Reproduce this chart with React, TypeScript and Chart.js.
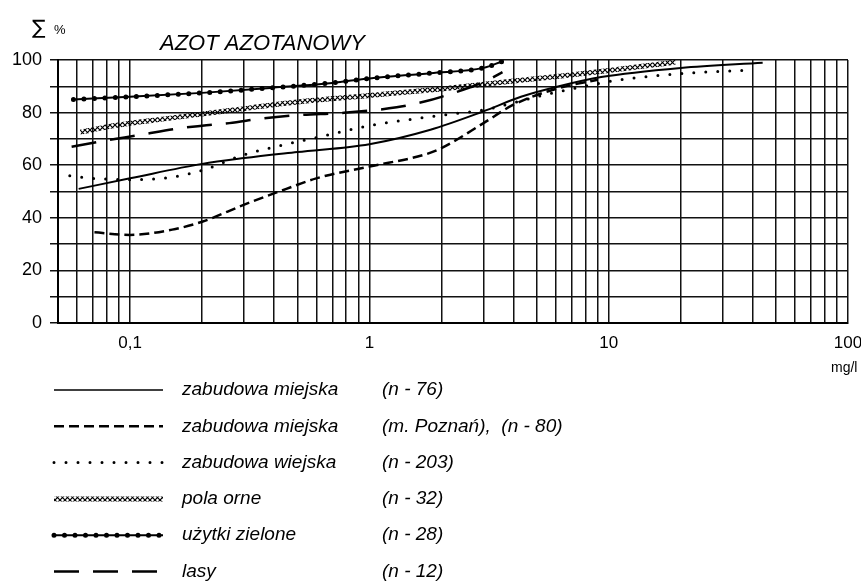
import React, { useEffect, useRef } from "react";
import { Chart, registerables } from "chart.js";

Chart.register(...registerables);

// ---------- text ----------
const TITLE = "AZOT AZOTANOWY";
const Y_UNIT_SYMBOL = "∑";
const Y_UNIT_SUFFIX = "%";
const X_UNIT = "mg/l";

// ---------- axes ----------
const X_MIN = 0.05;
const X_MAX = 100;
const X_TICKS = [
  0.05, 0.06, 0.07, 0.08, 0.09,
  0.1, 0.2, 0.3, 0.4, 0.5, 0.6, 0.7, 0.8, 0.9,
  1, 2, 3, 4, 5, 6, 7, 8, 9,
  10, 20, 30, 40, 50, 60, 70, 80, 90,
  100,
];
const X_LABEL_VALUES = [0.1, 1, 10, 100];
const X_LABEL_TEXTS = ["0,1", "1", "10", "100"];
const Y_TICKS = [0, 10, 20, 30, 40, 50, 60, 70, 80, 90, 100];
const Y_LABEL_VALUES = [0, 20, 40, 60, 80, 100];

// ---------- series (x in mg/l, y cumulative %) ----------
const miejskaX = [0.061, 0.1, 0.2, 0.3, 0.5, 1, 1.8, 3, 4.3, 6.2, 9.3, 20, 44];
const miejskaY = [51, 55, 60.5, 62.7, 65, 68, 73.5, 80.5, 86, 90, 93.5, 97, 99];

const poznanX = [0.071, 0.1, 0.15, 0.2, 0.3, 0.45, 0.6, 1, 1.7, 2, 3, 4, 6, 9];
const poznanY = [34.5, 33.5, 35.5, 38.5, 45, 51, 55, 59.5, 64, 66.5, 76, 83, 89, 92.5];

const wiejskaX = [0.056, 0.07, 0.1, 0.15, 0.2, 0.3, 0.45, 0.6, 1, 2, 3, 5, 7, 11, 17, 25, 40];
const wiejskaY = [56, 55, 54.5, 55.5, 58, 64, 68, 70.5, 75, 79, 81, 86, 89, 92.4, 94.3, 95.4, 96.2];

const polaX = [0.062, 0.085, 0.15, 0.27, 0.5, 1, 2, 4, 6.5, 10, 15, 19];
const polaY = [72.5, 75, 78, 81, 84, 86.5, 89, 92, 94, 96, 98, 99.2];

const uzytkiX = [0.058, 0.1, 0.2, 0.4, 0.7, 1, 1.8, 3, 3.6];
const uzytkiY = [85, 86, 87.5, 89.5, 91.3, 93, 95, 97, 99.5];

const lasyX = [0.057, 0.075, 0.11, 0.16, 0.2, 0.26, 0.36, 0.5, 0.8, 1.3, 1.7, 2, 3, 3.6];
const lasyY = [67, 69, 71.5, 74, 75, 76, 77.8, 79, 80, 82, 84.2, 86, 91.6, 95.4];

// ---------- legend ----------
const LEGEND_NAMES = [
  "zabudowa miejska",
  "zabudowa miejska",
  "zabudowa wiejska",
  "pola orne",
  "użytki zielone",
  "lasy",
];
const LEGEND_NOTES = [
  "(n - 76)",
  "(m. Poznań),  (n - 80)",
  "(n - 203)",
  "(n - 32)",
  "(n - 28)",
  "(n - 12)",
];

const FONT = '"Liberation Sans", Arial, sans-serif';

type Layer = {
  width: number;
  dash: number[];
  cap: CanvasLineCap;
  color: string | CanvasPattern;
};

function makeCrossPattern(): string | CanvasPattern {
  const c = document.createElement("canvas");
  c.width = 5;
  c.height = 5;
  const g = c.getContext("2d");
  if (!g) return "#000";
  g.strokeStyle = "#000";
  g.lineWidth = 1.2;
  g.beginPath();
  g.moveTo(0, 0);
  g.lineTo(5, 5);
  g.moveTo(5, 0);
  g.lineTo(0, 5);
  g.stroke();
  return g.createPattern(c, "repeat") || "#000";
}

export default function App() {
  const ref = useRef<HTMLCanvasElement | null>(null);

  useEffect(() => {
    const canvas = ref.current;
    if (!canvas) return;
    document.body.style.margin = "0";

    const cross = makeCrossPattern();

    const seriesStyles: Layer[][] = [
      [{ width: 2, dash: [], cap: "butt", color: "#000" }],
      [{ width: 2.5, dash: [10, 5], cap: "butt", color: "#000" }],
      [{ width: 3, dash: [0, 12], cap: "round", color: "#000" }],
      [{ width: 5, dash: [], cap: "butt", color: cross }],
      [
        { width: 2, dash: [], cap: "butt", color: "#000" },
        { width: 5, dash: [0, 10.5], cap: "round", color: "#000" },
      ],
      [{ width: 2.5, dash: [25, 14], cap: "butt", color: "#000" }],
    ];
    const seriesData = [
      [miejskaX, miejskaY],
      [poznanX, poznanY],
      [wiejskaX, wiejskaY],
      [polaX, polaY],
      [uzytkiX, uzytkiY],
      [lasyX, lasyY],
    ];

    const datasets: any[] = [];
    seriesData.forEach(([xs, ys], i) => {
      seriesStyles[i].forEach((layer) => {
        datasets.push({
          label: LEGEND_NAMES[i],
          data: xs.map((x, k) => ({ x, y: ys[k] })),
          borderColor: layer.color,
          borderWidth: layer.width,
          borderDash: layer.dash,
          borderCapStyle: layer.cap,
          pointRadius: 0,
          pointHoverRadius: 0,
          fill: false,
          cubicInterpolationMode: "monotone",
        });
      });
    });

    const overlay = {
      id: "overlay",
      beforeDraw(chart: any) {
        const ctx = chart.ctx;
        ctx.save();
        ctx.fillStyle = "#fff";
        ctx.fillRect(0, 0, chart.width, chart.height);
        ctx.restore();
      },
      afterDraw(chart: any) {
        const ctx: CanvasRenderingContext2D = chart.ctx;
        ctx.save();
        ctx.fillStyle = "#000";
        ctx.textBaseline = "alphabetic";
        // title
        ctx.font = `italic 22px ${FONT}`;
        ctx.textAlign = "left";
        ctx.fillText(TITLE, 160, 50);
        // y unit
        ctx.font = `20px "DejaVu Sans", ${FONT}`;
        ctx.fillText(Y_UNIT_SYMBOL, 32, 34);
        ctx.font = `13px ${FONT}`;
        ctx.fillText(Y_UNIT_SUFFIX, 54, 34);
        // x unit
        ctx.font = `14px ${FONT}`;
        ctx.textBaseline = "middle";
        ctx.fillText(X_UNIT, 831, 368);

        // legend
        const rowY0 = 390;
        const rowStep = 36.3;
        LEGEND_NAMES.forEach((name, i) => {
          const y = rowY0 + i * rowStep;
          seriesStyles[i].forEach((layer) => {
            ctx.save();
            ctx.strokeStyle = layer.color as any;
            ctx.lineWidth = i === 0 ? 1.5 : layer.width;
            ctx.setLineDash(layer.dash);
            ctx.lineCap = layer.cap;
            ctx.beginPath();
            ctx.moveTo(54, y);
            ctx.lineTo(163, y);
            ctx.stroke();
            ctx.restore();
          });
          ctx.font = `italic 19px ${FONT}`;
          ctx.textBaseline = "middle";
          ctx.textAlign = "left";
          ctx.fillText(name, 182, y);
          ctx.fillText(LEGEND_NOTES[i], 382, y);
        });
        ctx.restore();
      },
    };

    const chart = new Chart(canvas, {
      type: "line",
      data: { datasets },
      plugins: [overlay],
      options: {
        animation: false,
        responsive: false,
        devicePixelRatio: 1,
        events: [],
        layout: { padding: { left: 0, top: 60, right: 13, bottom: 218 } },
        plugins: {
          legend: { display: false },
          title: { display: false },
          tooltip: { enabled: false },
        },
        scales: {
          x: {
            type: "logarithmic",
            min: X_MIN,
            max: X_MAX,
            afterBuildTicks: (scale: any) => {
              scale.ticks = X_TICKS.map((v) => ({ value: v }));
            },
            afterFit: (scale: any) => {
              scale.height = 40;
              scale.paddingLeft = 0;
              scale.paddingRight = 0;
            },
            grid: {
              color: "#111",
              lineWidth: 1.5,
              drawTicks: false,
            },
            border: { display: true, color: "#000", width: 2 },
            ticks: {
              autoSkip: false,
              maxRotation: 0,
              minRotation: 0,
              padding: 10,
              color: "#000",
              font: { family: FONT, size: 17 },
              callback: (_v: any, index: number) => {
                const v = X_TICKS[index];
                const k = X_LABEL_VALUES.findIndex((lv) => Math.abs(lv - v) < 1e-9);
                return k >= 0 ? X_LABEL_TEXTS[k] : "";
              },
            },
          },
          y: {
            type: "linear",
            min: 0,
            max: 100,
            afterBuildTicks: (scale: any) => {
              scale.ticks = Y_TICKS.map((v) => ({ value: v }));
            },
            afterFit: (scale: any) => {
              scale.width = 58;
              scale.paddingTop = 0;
              scale.paddingBottom = 0;
            },
            grid: {
              color: "#111",
              lineWidth: 1.5,
              drawTicks: true,
              tickLength: 8,
            },
            border: { display: true, color: "#000", width: 2 },
            ticks: {
              autoSkip: false,
              padding: 8,
              color: "#000",
              font: { family: FONT, size: 18 },
              callback: (v: any) => (Y_LABEL_VALUES.includes(Number(v)) ? String(v) : ""),
            },
          },
        },
      },
    } as any);

    return () => chart.destroy();
  }, []);

  return (
    <div style={{ position: "fixed", left: 0, top: 0, width: 861, height: 581, background: "#fff" }}>
      <canvas ref={ref} width={861} height={581} style={{ display: "block", width: 861, height: 581 }} />
    </div>
  );
}
